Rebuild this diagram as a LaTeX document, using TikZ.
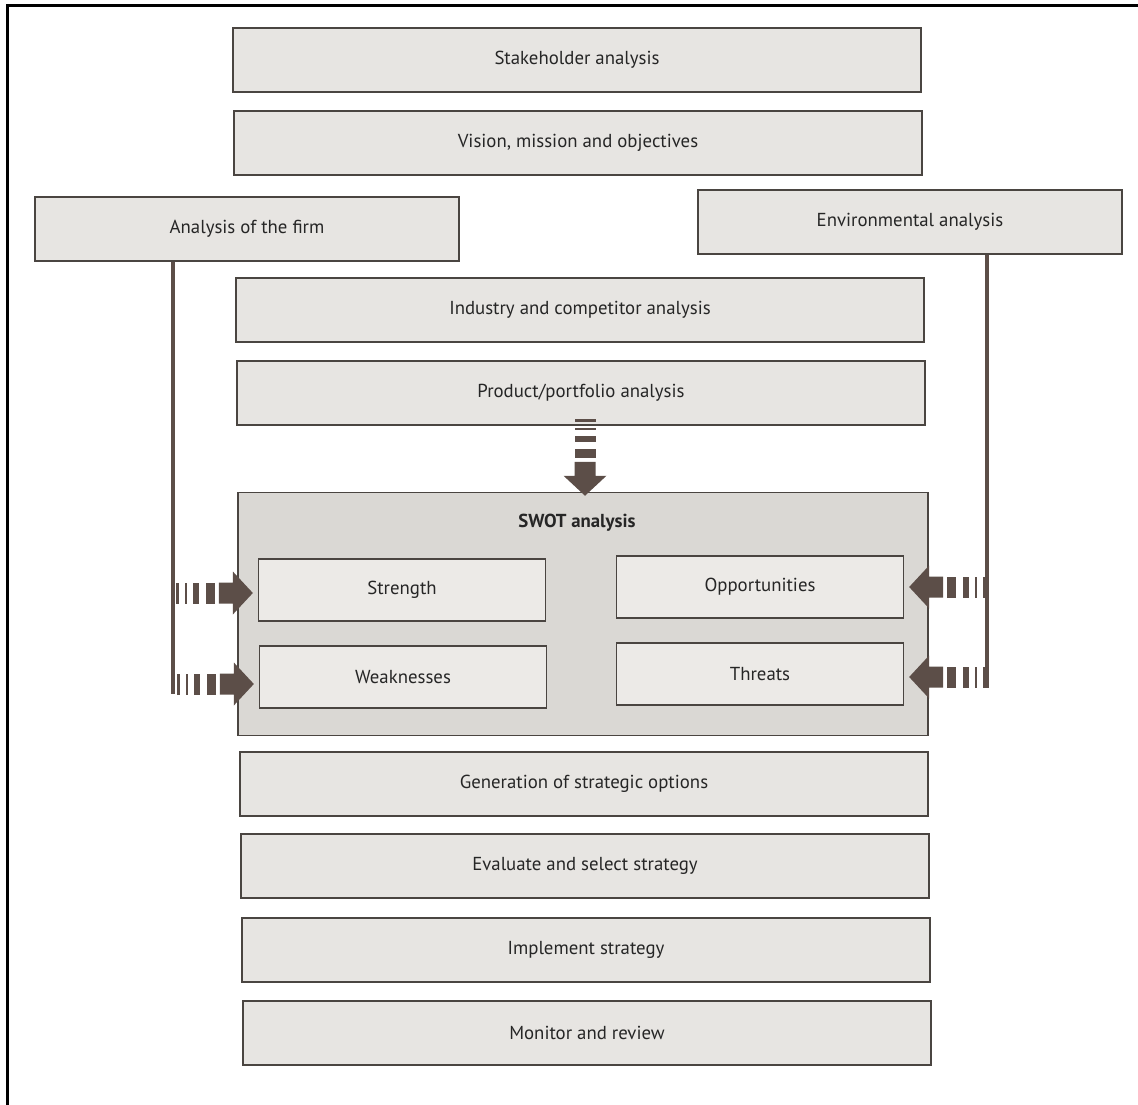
\documentclass[tikz,border=0pt]{standalone}
\usepackage{fontspec}
\setmainfont{PT Sans}
\usetikzlibrary{calc}
\definecolor{boxfill}{HTML}{E7E5E2}
\definecolor{swotfill}{HTML}{DAD8D4}
\definecolor{innerfill}{HTML}{ECEAE7}
\definecolor{edge}{HTML}{4A4541}
\definecolor{arrowc}{HTML}{5C4E48}
\tikzset{
  label font/.style={font=\fontsize{18.8}{22}\selectfont, text=black!85},
  stage/.style={draw=edge, line width=1.5pt, fill=boxfill, minimum width=688pt,
    minimum height=64pt, inner sep=0pt, label font},
  side/.style={stage, minimum width=424pt},
  swotbox/.style={draw=edge, line width=1.5pt, fill=swotfill, minimum width=690pt,
    minimum height=243pt, inner sep=0pt},
  quad/.style={draw=edge, line width=1.3pt, fill=innerfill, minimum width=287pt,
    minimum height=62pt, inner sep=0pt, label font},
  feed/.style={draw=arrowc, line width=4.5pt},
  stripes/.pic={
    \fill[arrowc] (0,-10.5) rectangle (3,10.5);
    \fill[arrowc] (9,-10.5) rectangle (11,10.5);
    \fill[arrowc] (17,-10.5) rectangle (23,10.5);
    \fill[arrowc] (30,-10.5) rectangle (39,10.5);
    \fill[arrowc] (43,-10.5) -- (57,-10.5) -- (57,-21.5) -- (77,0)
      -- (57,21.5) -- (57,10.5) -- (43,10.5) -- cycle;
  }
}
\begin{document}
\begin{tikzpicture}[x=1pt,y=-1pt]
\useasboundingbox (0,0) rectangle (1138,1105);
% page frame on the left and top
\draw[line width=3pt] (7,1105) -- (7,6) -- (1138,6);

% main column of stages
\node[stage] (stake)    at (577,60)  {Stakeholder analysis};
\node[stage] (vision)   at (578,143) {Vision, mission and objectives};
\node[side]  (firm)     at (247,229) {Analysis of the firm};
\node[side]  (env)      at (910,222) {Environmental analysis};
\node[stage] (industry) at (580,310) {Industry and competitor analysis};
\node[stage] (product)  at (581,393) {Product/portfolio analysis};

% SWOT block
\node[swotbox] (swot) at (583,614) {};
\node[label font, font=\fontsize{18.8}{22}\selectfont\bfseries] (swottitle) at (577,523) {SWOT analysis};
\node[quad] (strength) at (402,590) {Strength};
\node[quad] (opp)      at (760,587) {Opportunities};
\node[quad] (weak)     at (403,677) {Weaknesses};
\node[quad] (threats)  at (760,674) {Threats};

% later stages
\node[stage] (options)   at (584,784)  {Generation of strategic options};
\node[stage] (evaluate)  at (585,866)  {Evaluate and select strategy};
\node[stage] (implement) at (586,950)  {Implement strategy};
\node[stage] (monitor)   at (587,1033) {Monitor and review};

% feed lines from the firm and environment analyses
\coordinate (lbot) at (173,694);
\coordinate (rbot) at (987,688);
\draw[feed] (firm.south -| lbot) -- (lbot);
\draw[feed] (env.south -| rbot) -- (rbot);

% striped arrows into the SWOT quadrants
\path ($(strength.west)+(-82,3)$) pic {stripes};
\path ($(weak.west)+(-82,7)$) pic {stripes};
\path ($(opp.east)+(82,0)$) pic[rotate=180] {stripes};
\path ($(threats.east)+(82,3)$) pic[rotate=180] {stripes};
\path ($(product.south)+(4,-7)$) pic[rotate=-90] {stripes};
\end{tikzpicture}
\end{document}
